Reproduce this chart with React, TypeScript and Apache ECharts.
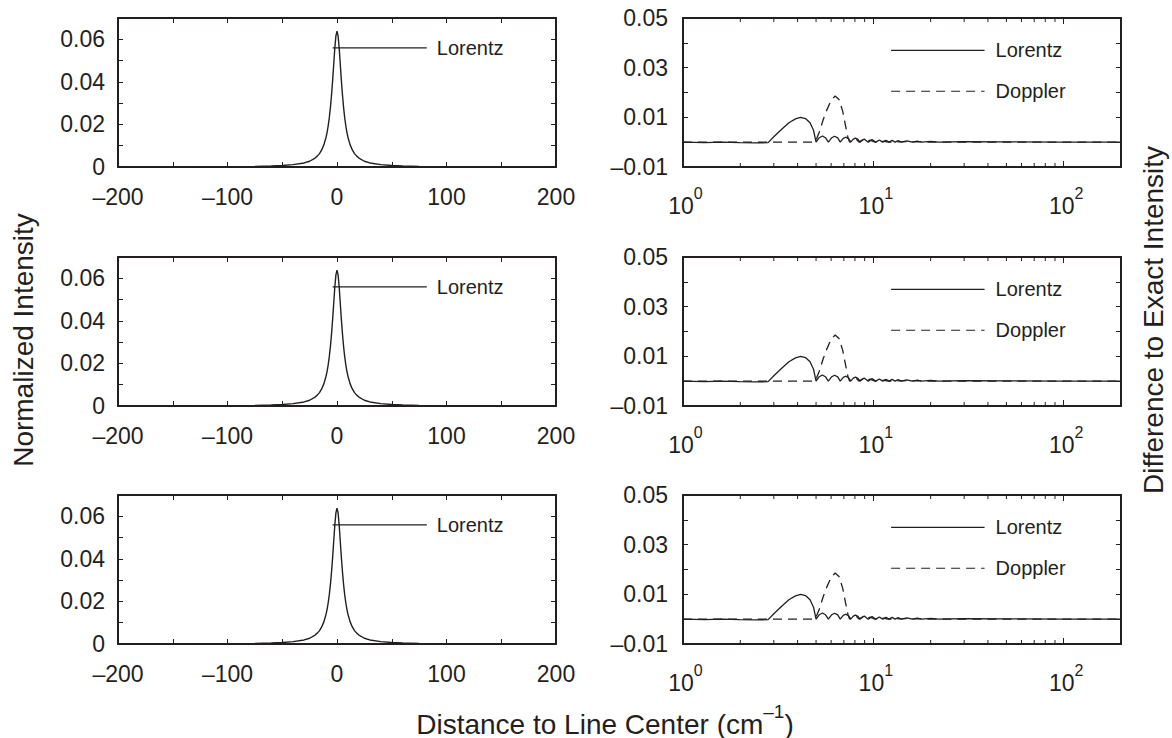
import React, { useEffect, useRef } from "react";
import * as echarts from "echarts";

// ---------- data ----------
// Left panels: Lorentz line profile (normalized intensity vs distance to line center)
const profileX = [
  -200, -150, -100, -75, -60, -50, -40, -30, -25, -20, -18, -16, -14, -12, -10, -9, -8, -7, -6, -5, -4, -3, -2, -1,
  0, 1, 2, 3, 4, 5, 6, 7, 8, 9, 10, 12, 14, 16, 18, 20, 25, 30, 40, 50, 60, 75, 100, 150, 200,
];
const profileY = [
  0.00004, 0.00008, 0.00018, 0.0003, 0.0005, 0.0007, 0.0011, 0.0019, 0.0027, 0.0042, 0.0051, 0.0063, 0.008, 0.0104,
  0.014, 0.0164, 0.0195, 0.0233, 0.028, 0.0338, 0.0406, 0.0483, 0.0558, 0.0616,
  0.0638, 0.0616, 0.0558, 0.0483, 0.0406, 0.0338, 0.028, 0.0233, 0.0195, 0.0164, 0.014, 0.0104, 0.008, 0.0063, 0.0051,
  0.0042, 0.0027, 0.0019, 0.0011, 0.0007, 0.0005, 0.0003, 0.00018, 0.00008, 0.00004,
];
const profileLegendX = [-4, 82];
const profileLegendY = 0.056;

// Right panels: difference to exact intensity (log distance axis)
const lorentzDiffX = [
  1, 1.3, 1.6, 2, 2.4, 2.8, 3.0, 3.3, 3.6, 3.9, 4.15, 4.4, 4.65, 4.85, 5.0, 5.2, 5.4, 5.6, 5.8, 6.05, 6.25, 6.5, 6.7,
  6.95, 7.15, 7.4, 7.6, 7.85, 8.05, 8.3, 8.5, 8.95, 9.4, 9.85, 10.3, 10.75, 11.2, 11.65, 12.1, 12.55, 13, 13.5, 14, 15,
  16, 17, 18, 20, 22, 30, 50, 100, 200,
];
const lorentzDiffY = [
  0, -0.0002, 0, -0.0002, -0.0003, -0.0002, 0.0022, 0.0052, 0.0078, 0.0094, 0.01, 0.0095, 0.0078, 0.0048, 0, 0.0018,
  0.0025, 0.0018, 0, 0.0018, 0.0024, 0.0017, 0, 0.0015, 0.002, 0.0014, 0, 0.0012, 0.0016, 0.0011, 0, 0.0013, 0, 0.0011,
  0, 0.0009, 0, 0.0008, 0, 0.0007, 0, 0.0006, 0, 0.0005, 0, 0.0004, 0, 0.0003, 0, 0.0002, 0.0001, 0, 0,
];
const dopplerDiffX = [
  1, 2, 3, 4, 4.95, 5.2, 5.45, 5.7, 6.0, 6.3, 6.6, 6.9, 7.15, 7.35, 7.5, 7.8, 8.1, 8.4, 8.8, 9.2, 9.6, 10.2, 11, 12, 15,
  20, 50, 200,
];
const dopplerDiffY = [
  0, 0, 0, 0, 0, 0.004, 0.009, 0.013, 0.0168, 0.0186, 0.0172, 0.0125, 0.0065, 0.002, 0, 0.001, 0.0013, 0, 0.001, 0,
  0.0008, 0, 0.0005, 0, 0.0002, 0, 0, 0,
];
const diffLegendX = [12.4, 38.4];
const lorentzLegendY = 0.037;
const dopplerLegendY = 0.0205;

const logMinorTicks = [2, 3, 4, 5, 6, 7, 8, 9, 20, 30, 40, 50, 60, 70, 80, 90];

const panelCount = 3;
const legendNames = ["Lorentz", "Doppler"];

const xLabel = "Distance to Line Center (cm";
const leftTitle = "Normalized Intensity";
const rightTitle = "Difference to Exact Intensity";

// ---------- styling ----------
const FONT = '"Liberation Sans", Arial, Helvetica, sans-serif';
const INK = "#231f20";
const LEFT_X = 118;
const RIGHT_X = 683;
const PANEL_W = 438;
const PANEL_H = 149;
const TOPS = [18, 257, 495];
const RY_MIN = -0.01;
const RY_MAX = 0.05;
const TICK_FS = 23;
const TITLE_FS = 28;

const zip = (xs: number[], ys: number[]) => xs.map((x, i) => [x, ys[i]]);
const dash = (v: number) => (v < 0 ? "\u2013" + String(Math.abs(v)) : String(v));

function buildOption() {
  const grid: any[] = [];
  const xAxis: any[] = [];
  const yAxis: any[] = [];
  const series: any[] = [];

  const axisLine = { onZero: false, lineStyle: { color: INK, width: 2 } };
  const tick = (len: number) => ({ inside: true, length: len, lineStyle: { color: INK, width: 1 } });
  const labelBase = { color: INK, fontSize: TICK_FS, fontFamily: FONT };

  for (let p = 0; p < panelCount; p++) {
    // ---- left panel ----
    const kl = grid.length;
    grid.push({ left: LEFT_X, top: TOPS[p], width: PANEL_W, height: PANEL_H, outerBoundsMode: "none" });
    const lx = {
      gridIndex: kl,
      type: "value",
      min: -200,
      max: 200,
      interval: 50,
      axisLine,
      axisTick: tick(5),
      splitLine: { show: false },
    };
    xAxis.push({
      ...lx,
      position: "bottom",
      axisLabel: {
        ...labelBase,
        margin: 18,
        formatter: (v: number) => (Math.round(v) % 100 === 0 ? dash(Math.round(v)) : ""),
      },
    });
    xAxis.push({ ...lx, position: "top", axisLabel: { show: false } });
    const ly = {
      gridIndex: kl,
      type: "value",
      min: 0,
      max: 0.07,
      interval: 0.01,
      axisLine,
      axisTick: tick(5),
      splitLine: { show: false },
    };
    yAxis.push({
      ...ly,
      position: "left",
      axisLabel: {
        ...labelBase,
        margin: 13,
        formatter: (v: number) => {
          const k = Math.round(v * 100);
          if (k % 2 !== 0) return "";
          return k === 0 ? "0" : (k / 100).toFixed(2);
        },
      },
    });
    yAxis.push({ ...ly, position: "right", axisLabel: { show: false } });

    series.push({
      type: "line",
      xAxisIndex: 2 * kl,
      yAxisIndex: 2 * kl,
      data: zip(profileX, profileY),
      showSymbol: false,
      symbol: "none",
      lineStyle: { color: INK, width: 1.4 },
      silent: true,
    });
    series.push({
      type: "line",
      xAxisIndex: 2 * kl,
      yAxisIndex: 2 * kl,
      data: profileLegendX.map((x) => [x, profileLegendY]),
      symbol: "none",
      lineStyle: { color: INK, width: 1.2 },
      silent: true,
      endLabel: {
        show: true,
        formatter: legendNames[0],
        distance: 10,
        color: INK,
        fontSize: 20,
        fontFamily: FONT,
      },
    });

    // ---- right panel ----
    const kr = grid.length;
    grid.push({ left: RIGHT_X, top: TOPS[p], width: PANEL_W, height: PANEL_H, outerBoundsMode: "none" });
    const rx = {
      gridIndex: kr,
      type: "log",
      logBase: 10,
      min: 1,
      max: 200,
      axisLine,
      axisTick: tick(6),
      splitLine: { show: false },
    };
    xAxis.push({
      ...rx,
      position: "bottom",
      axisLabel: {
        color: INK,
        fontFamily: FONT,
        margin: 18,
        formatter: (v: number) => {
          const e = Math.log10(v);
          if (Math.abs(e - Math.round(e)) > 1e-6) return "";
          return "{p|}{b|10}{s|" + Math.round(e) + "}";
        },
        rich: {
          p: { width: 5, fontSize: TICK_FS, lineHeight: 32 },
          b: { fontSize: TICK_FS, fontFamily: FONT, color: INK, lineHeight: 32, verticalAlign: "bottom" },
          s: { fontSize: 16, fontFamily: FONT, color: INK, lineHeight: 32, verticalAlign: "top" },
        },
      },
    });
    xAxis.push({ ...rx, position: "top", axisLabel: { show: false } });
    const ry = {
      gridIndex: kr,
      type: "value",
      min: RY_MIN,
      max: RY_MAX,
      interval: 0.01,
      axisLine,
      axisTick: tick(5),
      splitLine: { show: false },
    };
    yAxis.push({
      ...ry,
      position: "left",
      axisLabel: {
        ...labelBase,
        margin: 15,
        formatter: (v: number) => {
          const k = Math.round(v * 100);
          if (Math.abs(k) % 2 !== 1) return "";
          return (k < 0 ? "\u2013" : "") + (Math.abs(k) / 100).toFixed(2);
        },
      },
    });
    yAxis.push({ ...ry, position: "right", axisLabel: { show: false } });

    series.push({
      type: "line",
      xAxisIndex: 2 * kr,
      yAxisIndex: 2 * kr,
      data: zip(lorentzDiffX, lorentzDiffY),
      symbol: "none",
      lineStyle: { color: INK, width: 1.3 },
      silent: true,
    });
    series.push({
      type: "line",
      xAxisIndex: 2 * kr,
      yAxisIndex: 2 * kr,
      data: zip(dopplerDiffX, dopplerDiffY),
      symbol: "none",
      lineStyle: { color: INK, width: 1.3, type: [9, 6] },
      silent: true,
    });
    series.push({
      type: "line",
      xAxisIndex: 2 * kr,
      yAxisIndex: 2 * kr,
      data: diffLegendX.map((x) => [x, lorentzLegendY]),
      symbol: "none",
      lineStyle: { color: INK, width: 1.2 },
      silent: true,
      endLabel: { show: true, formatter: legendNames[0], distance: 11, color: INK, fontSize: 20, fontFamily: FONT },
    });
    series.push({
      type: "line",
      xAxisIndex: 2 * kr,
      yAxisIndex: 2 * kr,
      data: diffLegendX.map((x) => [x, dopplerLegendY]),
      symbol: "none",
      lineStyle: { color: INK, width: 1.2, type: [9, 6] },
      silent: true,
      endLabel: { show: true, formatter: legendNames[1], distance: 11, color: INK, fontSize: 20, fontFamily: FONT },
    });
    // minor ticks of the log axis (bottom and top), placed through the axis scale
    series.push({
      type: "custom",
      xAxisIndex: 2 * kr,
      yAxisIndex: 2 * kr,
      silent: true,
      clip: false,
      data: logMinorTicks.map((v) => [v, 0]),
      encode: { x: 0, y: 1 },
      renderItem: (_params: any, api: any) => {
        const v = api.value(0);
        const b = api.coord([v, RY_MIN]);
        const t = api.coord([v, RY_MAX]);
        return {
          type: "group",
          children: [
            { type: "line", shape: { x1: b[0], y1: b[1], x2: b[0], y2: b[1] - 4 }, style: { stroke: INK, lineWidth: 1 } },
            { type: "line", shape: { x1: t[0], y1: t[1], x2: t[0], y2: t[1] + 4 }, style: { stroke: INK, lineWidth: 1 } },
          ],
        };
      },
    });
  }

  const graphic = [
    {
      type: "text",
      x: 605,
      y: 720,
      style: {
        text: "{n|" + xLabel + "}{s|\u20131}{n|)}",
        align: "center",
        verticalAlign: "middle",
        rich: {
          n: { fontSize: TITLE_FS, fontFamily: FONT, fill: INK, lineHeight: 36, verticalAlign: "bottom" },
          s: { fontSize: 19, fontFamily: FONT, fill: INK, lineHeight: 36, verticalAlign: "top" },
        },
      },
    },
    {
      type: "text",
      x: 23,
      y: 340,
      rotation: Math.PI / 2,
      style: { text: leftTitle, align: "center", verticalAlign: "middle", fontSize: TITLE_FS, fontFamily: FONT, fill: INK },
    },
    {
      type: "text",
      x: 1153,
      y: 320,
      rotation: Math.PI / 2,
      style: { text: rightTitle, align: "center", verticalAlign: "middle", fontSize: TITLE_FS, fontFamily: FONT, fill: INK },
    },
  ];

  return {
    animation: false,
    backgroundColor: "#ffffff",
    textStyle: { fontFamily: FONT },
    grid,
    xAxis,
    yAxis,
    series,
    graphic,
  };
}

export default function App() {
  const ref = useRef<HTMLDivElement>(null);
  useEffect(() => {
    document.body.style.margin = "0";
    if (!ref.current) return;
    const chart = echarts.init(ref.current, undefined, { renderer: "svg" });
    chart.setOption(buildOption() as any);
    return () => chart.dispose();
  }, []);
  return <div ref={ref} style={{ width: 1172, height: 738 }} />;
}
